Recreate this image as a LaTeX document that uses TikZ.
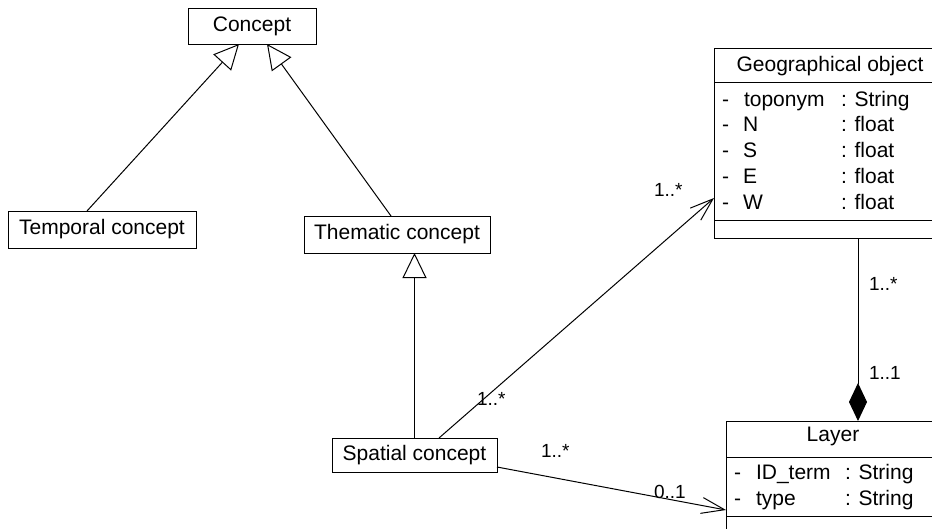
\documentclass[tikz,border=0pt]{standalone}
\usepackage{fontspec}
\setmainfont{Liberation Sans}
\usetikzlibrary{arrows.meta,calc}
\begin{document}
\begin{tikzpicture}[x=1pt,y=-1pt,
  every node/.style={inner sep=0pt, outer sep=0pt},
  cls/.style={draw, line width=1pt, fill=white, font=\fontsize{21}{25}\selectfont, text height=15pt, text depth=4.4pt},
  txt/.style={font=\fontsize{21}{25}\selectfont},
  attr/.style={anchor=base west, font=\fontsize{21}{25}\selectfont},
  mult/.style={anchor=west, font=\fontsize{19}{23}\selectfont},
  conn/.style={line width=1pt},
  gen/.style={conn, -{Triangle[open, length=25pt, width=24pt, fill=white]}},
  assoc/.style={conn, -{Straight Barb[length=23pt, width=16pt]}},
  comp/.style={conn, -{Diamond[length=38pt, width=18pt, fill=black]}},
]
\path[use as bounding box, fill=white] (0,0) rectangle (932,528);
\clip (0,0) rectangle (932,528);

% simple classes
\node[cls, minimum width=128pt, minimum height=36pt] (concept) at (252,26) {Concept};
\node[cls, minimum width=188pt, minimum height=37pt] (temporal) at (102,229.5) {Temporal concept};
\node[cls, minimum width=186pt, minimum height=37pt] (thematic) at (397,234.5) {Thematic concept};
\node[cls, minimum width=165pt, minimum height=34pt] (spatial) at (414.5,455) {Spatial concept};

% Geographical object
\node[cls, minimum width=232pt, minimum height=190pt] (geo) at (830,143) {};
\draw[conn] ($(geo.north west)+(0,34)$) -- ($(geo.north east)+(0,34)$);
\draw[conn] ($(geo.north west)+(0,172)$) -- ($(geo.north east)+(0,172)$);
\node[txt, anchor=base] (geoname) at (830,71) {Geographical object};
\node[attr] (gd1) at (722,106) {-};
\node[attr] (gn1) at (744,106) {toponym};
\node[attr] (gt1) at (841,106) {: String};
\node[attr] (gd2) at (722,131.7) {-};
\node[attr] (gn2) at (743,131.7) {N};
\node[attr] (gt2) at (841,131.7) {: float};
\node[attr] (gd3) at (722,157.3) {-};
\node[attr] (gn3) at (743,157.3) {S};
\node[attr] (gt3) at (841,157.3) {: float};
\node[attr] (gd4) at (722,183) {-};
\node[attr] (gn4) at (743,183) {E};
\node[attr] (gt4) at (841,183) {: float};
\node[attr] (gd5) at (722,209) {-};
\node[attr] (gn5) at (743,209) {W};
\node[attr] (gt5) at (841,209) {: float};

% Layer
\node[cls, minimum width=214pt, minimum height=124pt] (layer) at (833,483) {};
\draw[conn] ($(layer.north west)+(0,36)$) -- ($(layer.north east)+(0,36)$);
\draw[conn] ($(layer.north west)+(0,95)$) -- ($(layer.north east)+(0,95)$);
\node[txt, anchor=base] (layername) at (833,441.7) {Layer};
\node[attr] (ld1) at (734,479) {-};
\node[attr] (ln1) at (756,479) {ID\_term};
\node[attr] (lt1) at (845,479) {: String};
\node[attr] (ld2) at (734,505.7) {-};
\node[attr] (ln2) at (756,505.7) {type};
\node[attr] (lt2) at (845,505.7) {: String};

% connectors
\draw[gen] ($(temporal.north)+(-15,0)$) -- ($(concept.south)+(-13,0)$);
\draw[gen] ($(thematic.north)+(-6,0)$) -- ($(concept.south)+(15,0)$);
\draw[gen] (spatial.north) -- (spatial.north |- thematic.south);
\draw[assoc] ($(spatial.north)+(24.5,0)$) -- ($(geo.west)+(0,55)$);
\draw[assoc] ($(spatial.east)+(0,12)$) -- ($(layer.west)+(0,27)$);
\draw[comp] ($(geo.south)+(28,0)$) -- ($(layer.north)+(25,0)$);

% multiplicities
\node[mult] (m1) at (869,284) {1..*};
\node[mult] (m2) at (869,373) {1..1};
\node[mult] (m3) at (477,399) {1..*};
\node[mult] (m4) at (654,190) {1..*};
\node[mult] (m5) at (541,451) {1..*};
\node[mult] (m6) at (654,492) {0..1};
\end{tikzpicture}
\end{document}
